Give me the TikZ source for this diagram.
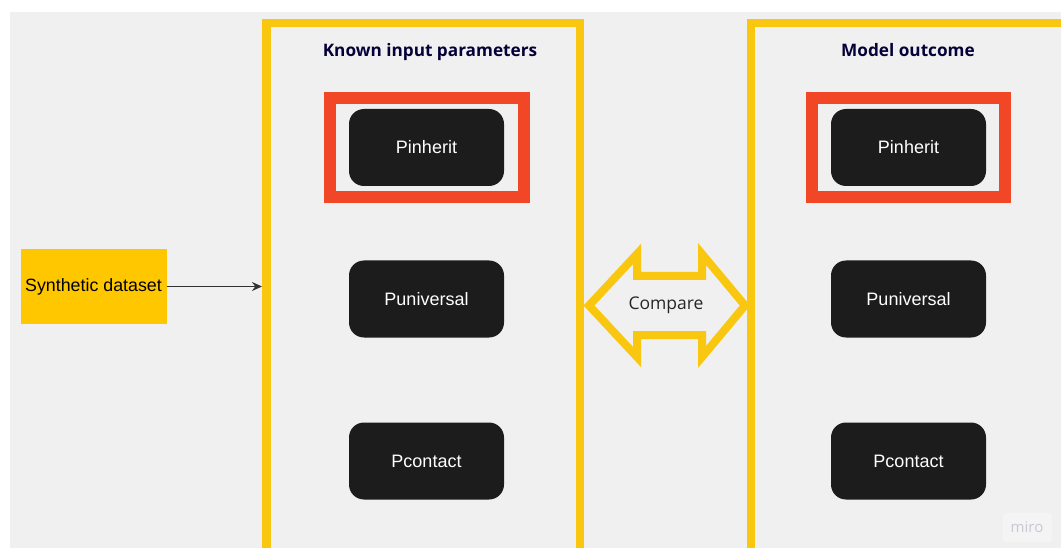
\documentclass[tikz,border=0pt]{standalone}
\usepackage{fontspec}
\setmainfont{Liberation Sans}
\newfontfamily\titlefont{Open Sans}
\usetikzlibrary{arrows.meta}
\definecolor{canvas}{HTML}{F0F0F0}
\definecolor{frameyellow}{HTML}{FAC710}
\definecolor{datayellow}{HTML}{FFC700}
\definecolor{markred}{HTML}{F24726}
\definecolor{boxblack}{HTML}{1C1C1C}
\definecolor{navy}{HTML}{050038}
\definecolor{arrowgrey}{HTML}{333333}
\definecolor{wmgrey}{HTML}{C9C9D3}
\tikzset{
  frame/.style={draw=frameyellow, line width=8.5pt},
  highlight/.style={draw=markred, line width=12pt},
  param/.style={fill=boxblack, rounded corners=15pt, minimum width=155pt,
    minimum height=77pt, text=white, font=\fontsize{18}{21}\selectfont, inner sep=0pt},
  title/.style={text=navy, anchor=base, font=\titlefont\bfseries\fontsize{17.2}{20}\selectfont},
  feed/.style={draw=arrowgrey, line width=1.5pt, -{Stealth[length=10pt,width=9pt]}},
}
\begin{document}
\begin{tikzpicture}[x=1pt,y=-1pt]
\useasboundingbox (0,0) rectangle (1061,548);
\clip (0,0) rectangle (1061,548);
% canvas
\fill[canvas] (10,12) rectangle (1061,548);

% the two frames (run past the lower / right edge)
\draw[frame] (266.25,560) -- (266.25,23.25) -- (579.75,23.25) -- (579.75,560);
\draw[frame] (751.2,560) -- (751.2,23.25) -- (1075,23.25);
\node[title] (tL) at (430,57) {Known input parameters};
\node[title] (tR) at (908,57) {Model outcome};

% parameters, left column
\node[param] (pL1) at (426.5,147.5) {Pinherit};
\node[param] (pL2) at (426.5,299) {Puniversal};
\node[param] (pL3) at (426.5,461) {Pcontact};
% parameters, right column
\node[param] (pR1) at (908.5,147.5) {Pinherit};
\node[param] (pR2) at (908.5,299) {Puniversal};
\node[param] (pR3) at (908.5,461) {Pcontact};

% red highlights
\draw[highlight] (330,97.8) rectangle (524,197.2);
\draw[highlight] (812,97.8) rectangle (1005,197.2);

% input data
\node[fill=datayellow, minimum width=146pt, minimum height=75pt, inner sep=0pt,
  font=\fontsize{17.8}{20}\selectfont] (syn) at (93.5,286.5) {Synthetic dataset};
\coordinate (inL) at (262,286.5);
\draw[feed] (syn.east) -- (inL);

% compare double arrow
\draw[draw=frameyellow, line width=8pt, line join=miter]
  (589,305.5) -- (637,254) -- (637,276) -- (702,276) -- (702,254) -- (745,305.5)
  -- (702,357) -- (702,335) -- (637,335) -- (637,357) -- cycle;
\node[font=\titlefont\fontsize{17.5}{20}\selectfont, text=black!85] (cmp) at (666,305) {Compare};

% watermark
\fill[white!25!canvas, rounded corners=3pt] (1003,513) rectangle (1052,542);
\node[text=wmgrey, font=\titlefont\fontsize{15}{17}\selectfont] (wm) at (1027,527) {miro};
\end{tikzpicture}
\end{document}
